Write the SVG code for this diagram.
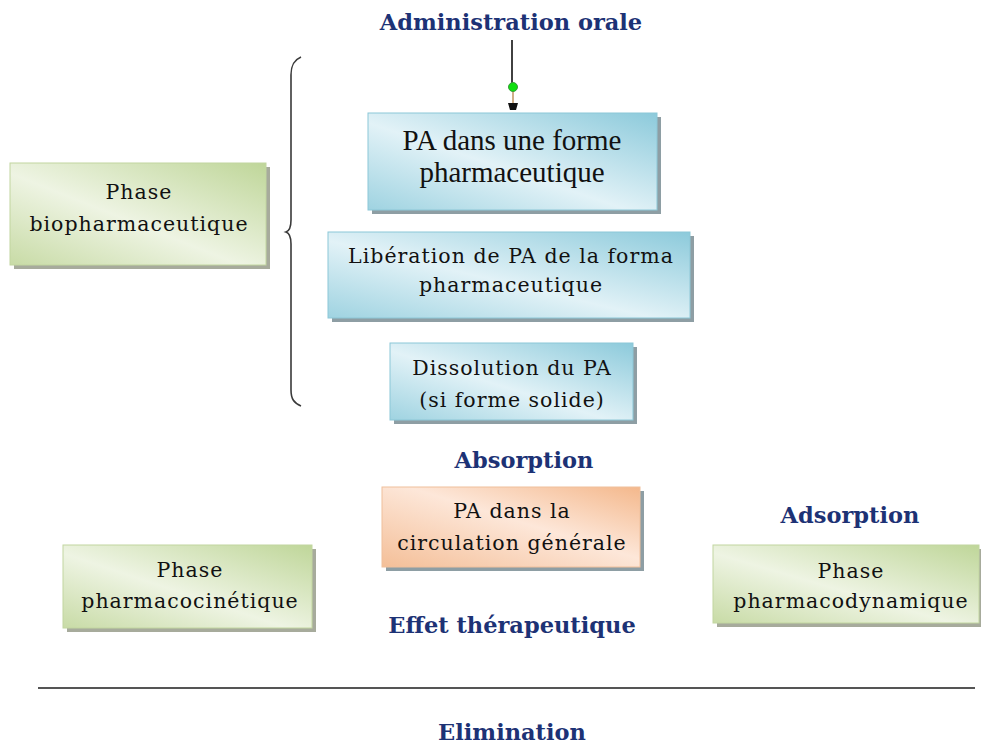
<svg xmlns="http://www.w3.org/2000/svg" width="981" height="745" viewBox="0 0 981 745">
<defs>
<linearGradient id="gBlue" x1="0" y1="1" x2="1" y2="0">
<stop offset="0" stop-color="#9fd3e1"/>
<stop offset="0.45" stop-color="#e2f2f7"/>
<stop offset="1" stop-color="#8ccadb"/>
</linearGradient>
<linearGradient id="gGreen" x1="0" y1="1" x2="1" y2="0">
<stop offset="0" stop-color="#c8dba6"/>
<stop offset="0.45" stop-color="#eef4e3"/>
<stop offset="1" stop-color="#bfd699"/>
</linearGradient>
<linearGradient id="gOrange" x1="0" y1="1" x2="1" y2="0">
<stop offset="0" stop-color="#f4bf98"/>
<stop offset="0.55" stop-color="#fde7d9"/>
<stop offset="1" stop-color="#f4b88c"/>
</linearGradient>
</defs>
<style>
.sh{fill:#8e9ea4;}
.shg{fill:#a7ab9c;}
.blue{fill:url(#gBlue);stroke:#8cc7d7;stroke-width:1;}
.green{fill:url(#gGreen);stroke:#c2d6a0;stroke-width:1;}
.orange{fill:url(#gOrange);stroke:#f0c09c;stroke-width:1;}
.t{font-family:"DejaVu Serif",serif;font-size:20.5px;fill:#111;text-anchor:middle;letter-spacing:1px;}
.tt{font-family:"Liberation Serif","Times New Roman",serif;font-size:29px;fill:#111;text-anchor:middle;}
.h{font-family:"DejaVu Serif",serif;font-weight:bold;font-size:22.5px;fill:#1d3275;text-anchor:middle;}
</style>
<rect width="981" height="745" fill="#ffffff"/>

<g id="connectors">
<line x1="512" y1="40" x2="512" y2="86" stroke="#111" stroke-width="1.6"/>
<line x1="513" y1="90" x2="513" y2="104" stroke="#c39a6b" stroke-width="1.6"/>
<circle cx="513" cy="87" r="4.5" fill="#10e010" stroke="#3a9a3a" stroke-width="1"/>
<polygon points="508,103 518,103 516,110 510,110" fill="#111"/>
<path d="M301,57 C294,60 291,65 291,75 L291,220 C291,228 289,231 286,232 C289,233 291,236 291,244 L291,390 C291,399 294,403 301,406" fill="none" stroke="#3a3a3a" stroke-width="1.6"/>
<line x1="38" y1="688" x2="975" y2="688" stroke="#555" stroke-width="2.2"/>
</g>

<g id="admin">
<text class="h" x="511" y="30">Administration orale</text>
</g>

<g id="pa-forme">
<rect class="sh" x="372" y="117" width="289" height="97"/>
<rect class="blue" x="368" y="113" width="289" height="97"/>
<text class="tt" x="512" y="150">PA dans une forme</text>
<text class="tt" x="512" y="182">pharmaceutique</text>
</g>

<g id="phase-bio">
<rect class="shg" x="14" y="167" width="256" height="102"/>
<rect class="green" x="10" y="163" width="256" height="102"/>
<text class="t" x="139" y="199">Phase</text>
<text class="t" x="139" y="231">biopharmaceutique</text>
</g>

<g id="liberation">
<rect class="sh" x="332" y="236" width="362" height="86"/>
<rect class="blue" x="328" y="232" width="362" height="86"/>
<text class="t" x="511" y="263">Libération de PA de la forma</text>
<text class="t" x="511" y="292">pharmaceutique</text>
</g>

<g id="dissolution">
<rect class="sh" x="394" y="347" width="243" height="77"/>
<rect class="blue" x="390" y="343" width="243" height="77"/>
<text class="t" x="512" y="375">Dissolution du PA</text>
<text class="t" x="512" y="407">(si forme solide)</text>
</g>

<g id="absorption">
<text class="h" x="524" y="468">Absorption</text>
</g>

<g id="circulation">
<rect class="sh" x="386" y="491" width="258" height="80"/>
<rect class="orange" x="382" y="487" width="258" height="80"/>
<text class="t" x="512" y="518">PA dans la</text>
<text class="t" x="512" y="550">circulation générale</text>
</g>

<g id="phase-pk">
<rect class="shg" x="67" y="549" width="249" height="83"/>
<rect class="green" x="63" y="545" width="249" height="83"/>
<text class="t" x="190" y="577">Phase</text>
<text class="t" x="190" y="608">pharmacocinétique</text>
</g>

<g id="adsorption">
<text class="h" x="850" y="523">Adsorption</text>
</g>

<g id="phase-pd">
<rect class="shg" x="717" y="549" width="266" height="78"/>
<rect class="green" x="713" y="545" width="266" height="78"/>
<text class="t" x="851" y="578">Phase</text>
<text class="t" x="851" y="608">pharmacodynamique</text>
</g>

<g id="effet">
<text class="h" x="512" y="633">Effet thérapeutique</text>
</g>

<g id="elimination">
<text class="h" x="512" y="740">Elimination</text>
</g>
</svg>
